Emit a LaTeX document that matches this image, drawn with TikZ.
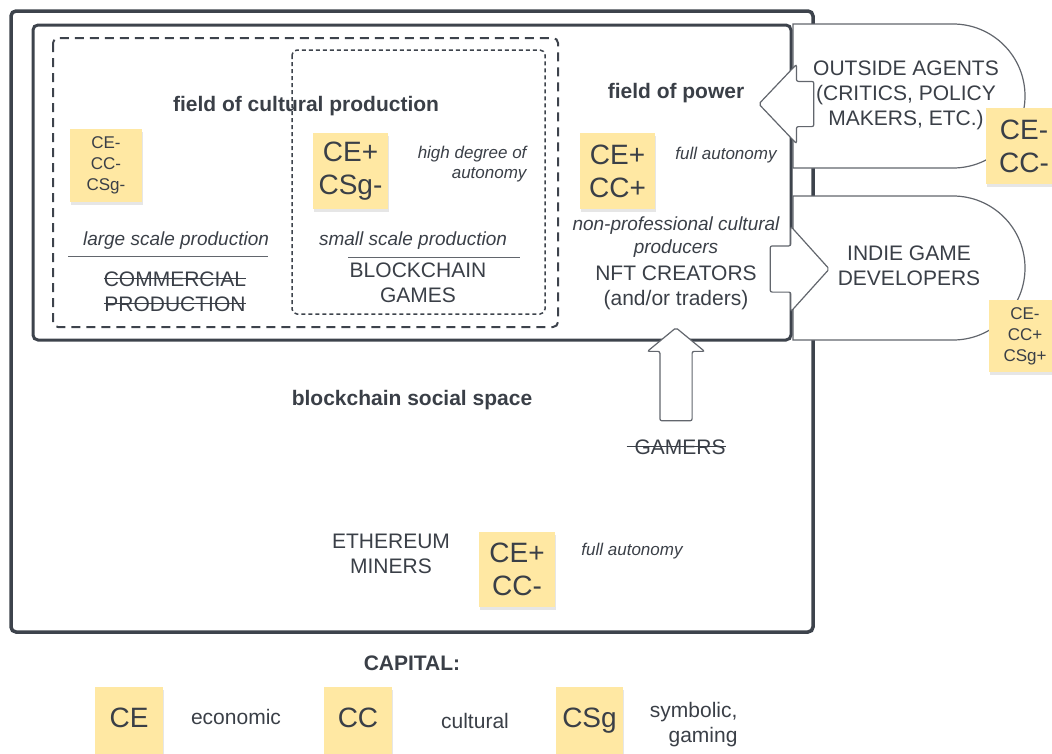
\documentclass[tikz,border=0pt]{standalone}
\usepackage{fontspec}
\setmainfont{Liberation Sans}
\usetikzlibrary{shapes.arrows,shadows}

\definecolor{ink}{HTML}{3A3F47}
\definecolor{frame}{HTML}{3D434C}
\definecolor{thinline}{HTML}{62666D}
\definecolor{note}{HTML}{FFE8A3}
\newcommand\fs[2]{\fontsize{#1}{#2}\selectfont}
\newsavebox\strikebox
\newcommand\crossout[1]{\sbox\strikebox{#1}\rlap{\usebox\strikebox}\rule[.33em]{\wd\strikebox}{1.2pt}}

\begin{document}
\begin{tikzpicture}[x=1pt,y=-1pt,
    region/.style={draw=frame,rounded corners=5},
    sticky/.style={fill=note,text=ink,align=center,inner sep=0,
        drop shadow={opacity=.2,shadow xshift=1pt,shadow yshift=-3pt}},
    bignote/.style={sticky,font=\fs{28}{33}},
    smallnote/.style={sticky,font=\fs{17}{21}},
    legendnote/.style={bignote,minimum height=76,text height=20pt,text depth=16pt},
    words/.style={text=ink,align=center,font=\fs{21}{25}},
    heading/.style={text=ink,font=\bfseries\fs{21}{25}},
    remark/.style={text=ink,align=center,font=\itshape\fs{19}{23}},
    aside/.style={text=ink,font=\itshape\fs{17}{20}},
    agent/.style={draw=thinline,fill=white,line width=1.2},
    blockarrow/.style={single arrow,draw=thinline,fill=white,line width=1.2,
        anchor=tip,rounded corners=2}]

    \useasboundingbox (0,0) rectangle (1052,753);

    % social space and fields
    \draw[region,line width=3.5] (11,11) rectangle (813,632);
    \draw[region,line width=3] (33,25) rectangle (791,340);
    \draw[region,line width=2,dash pattern=on 9pt off 6pt] (53,38) rectangle (558,327);
    \draw[region,line width=1.5,dash pattern=on 4pt off 3pt] (292,50) rectangle (545,314);

    \node[heading] (cultfield) at (306,106) {field of cultural production};
    \node[heading] (powerfield) at (676,93) {field of power};
    \node[heading] (socialspace) at (412,400) {blockchain social space};

    \node[smallnote,minimum width=72,minimum height=73] (notecommercial) at (106,165.5) {CE-\\CC-\\CSg-};
    \node[bignote,minimum width=75,minimum height=76] (notegames) at (350.5,171) {CE+\\CSg-};
    \node[aside,align=right,anchor=east] (highauto) at (530,164) {high degree of\\autonomy};

    \node[remark] (largescale) at (176,241) {large scale production};
    \draw[thinline] (68,256) -- (268,256);
    \node[words] (commercial) at (175,291.5) {\crossout{COMMERCIAL}\\\crossout{PRODUCTION}};
    \node[remark] (smallscale) at (413,241) {small scale production};
    \draw[thinline] (348,257) -- (520,257);
    \node[words] (bcgames) at (418,283) {BLOCKCHAIN\\GAMES};

    \node[bignote,minimum width=75,minimum height=76] (notenft) at (617.5,171) {CE+\\CC+};
    \node[aside] (fullauto) at (726,155) {full autonomy};
    \node[remark] (amateurs) at (676,237) {non-professional cultural\\producers};
    \node[words] (nft) at (676,288) {NFT CREATORS\\(and/or traders)};

    % agents outside the field of power
    \draw[agent] (793,96) -- (793,24) [rounded corners=72] -- (1025,24) -- (1025,168)
        [sharp corners] -- (793,168) -- cycle;
    \draw[agent] (793,268) -- (793,196) [rounded corners=72] -- (1025,196) -- (1025,340)
        [sharp corners] -- (793,340) -- cycle;
    \node[words] (outside) at (906,95) {OUTSIDE AGENTS\\(CRITICS, POLICY\\MAKERS, ETC.)};
    \node[words] (indie) at (909,266) {INDIE GAME\\DEVELOPERS};
    \node[blockarrow,shape border rotate=180,minimum height=55,inner xsep=0pt,inner ysep=22pt,
        single arrow head extend=17pt,single arrow tip angle=93] (influence) at (758,104) {};
    \node[blockarrow,minimum height=59,inner xsep=0pt,inner ysep=22.5pt,
        single arrow head extend=19.5pt,single arrow tip angle=96] (exodus) at (830,269) {};
    \node[bignote,minimum width=76,minimum height=76] (noteoutside) at (1024,146) {CE-\\CC-};
    \node[smallnote,minimum width=72,minimum height=72] (noteindie) at (1025,336) {CE-\\CC+\\CSg+};

    \node[blockarrow,shape border rotate=90,minimum height=93,inner sep=15.5pt,
        single arrow head extend=12.5pt,single arrow tip angle=101] (entry) at (676,327) {};
    \node[words] (gamers) at (676,447) {\crossout{\hspace{8pt}GAMERS}};

    \node[words] (miners) at (391,554) {ETHEREUM\\MINERS};
    \node[bignote,minimum width=76,minimum height=75] (noteminers) at (517,569.5) {CE+\\CC-};
    \node[aside] (minerauto) at (632,551) {full autonomy};

    % capital legend
    \node[heading] (capital) at (412,663) {CAPITAL:};
    \node[legendnote,minimum width=68] (legce) at (129,725) {CE};
    \node[words] (economic) at (236,717) {economic};
    \node[legendnote,minimum width=68] (legcc) at (358,725) {CC};
    \node[words] (cultural) at (475,721) {cultural};
    \node[legendnote,minimum width=67] (legcsg) at (589.5,725) {CSg};
    \node[words,align=right,anchor=east] (symbolic) at (741,724.5) {symbolic,\\gaming};

\end{tikzpicture}
\end{document}
